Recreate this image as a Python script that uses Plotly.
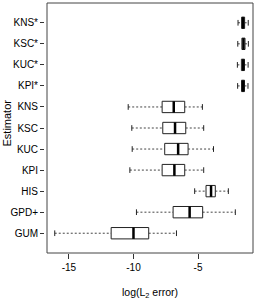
import plotly.graph_objects as go

# Categories, bottom to top
estimators = ["GUM", "GPD+", "HIS", "KPI", "KUC", "KSC", "KNS", "KPI*", "KUC*", "KSC*", "KNS*"]
lower_whisker = [-16.1, -9.77, -5.26, -10.28, -10.10, -10.13, -10.41, -1.93, -1.95, -1.92, -1.90]
q1 =            [-11.73, -6.93, -4.38, -7.78, -7.58, -7.73, -7.78, -1.63, -1.64, -1.60, -1.62]
median =        [-10.0, -5.65, -3.99, -6.83, -6.54, -6.78, -6.88, -1.50, -1.50, -1.48, -1.51]
q3 =            [-8.82, -4.64, -3.66, -6.03, -5.77, -5.95, -6.03, -1.40, -1.40, -1.36, -1.39]
upper_whisker = [-6.67, -2.11, -2.65, -4.56, -3.80, -4.56, -4.66, -1.13, -1.12, -1.10, -1.11]
x_ticks = [-15, -10, -5]

half_box = 0.27
half_cap = 0.135
line_col = "#222222"

box_x, box_y = [], []
med_x, med_y = [], []
wh_x, wh_y = [], []
cap_x, cap_y = [], []
for i, name in enumerate(estimators):
    p = i + 1
    box_x += [q1[i], q3[i], q3[i], q1[i], q1[i], None]
    box_y += [p - half_box, p - half_box, p + half_box, p + half_box, p - half_box, None]
    med_x += [median[i], median[i], None]
    med_y += [p - half_box, p + half_box, None]
    wh_x += [lower_whisker[i], q1[i], None, q3[i], upper_whisker[i], None]
    wh_y += [p, p, None, p, p, None]
    cap_x += [lower_whisker[i], lower_whisker[i], None, upper_whisker[i], upper_whisker[i], None]
    cap_y += [p - half_cap, p + half_cap, None, p - half_cap, p + half_cap, None]

fig = go.Figure()
fig.add_trace(go.Scatter(x=wh_x, y=wh_y, mode="lines",
                         line=dict(color="#444444", width=1, dash="2px,2px"), hoverinfo="skip"))
fig.add_trace(go.Scatter(x=cap_x, y=cap_y, mode="lines",
                         line=dict(color=line_col, width=1), hoverinfo="skip"))
fig.add_trace(go.Scatter(x=box_x, y=box_y, mode="lines", fill="toself", fillcolor="white",
                         line=dict(color=line_col, width=1), hoverinfo="skip"))
fig.add_trace(go.Scatter(x=med_x, y=med_y, mode="lines",
                         line=dict(color="black", width=2.5), hoverinfo="skip"))

family = "Liberation Sans, Arial, sans-serif"
font = dict(family=family, size=10, color="black")

fig.update_layout(
    width=258, height=301,
    margin=dict(l=44, r=5, t=3, b=48, autoexpand=False),
    plot_bgcolor="white", paper_bgcolor="white",
    showlegend=False,
    font=font,
    xaxis=dict(domain=[3 / 209, 1], range=[-16.7, -0.74], tickmode="array", tickvals=x_ticks,
               ticktext=[str(v) for v in x_ticks], ticks="outside", ticklen=5, tickcolor="#333",
               showgrid=False, zeroline=False, showline=False, tickfont=font, automargin=False),
    yaxis=dict(anchor="free", position=0, range=[0.06, 11.94], tickmode="array",
               tickvals=list(range(1, len(estimators) + 1)), ticktext=estimators,
               ticks="outside", ticklen=4, tickcolor="#333",
               showgrid=False, zeroline=False, showline=False, tickfont=font, automargin=False),
    shapes=[dict(type="rect", xref="x domain", yref="y domain", x0=0, x1=1, y0=0, y1=1,
                 line=dict(color="#444444", width=1))],
    annotations=[
        dict(text="log(L<sub>2</sub> error)", xref="x domain", yref="paper", x=0.5, y=0,
             yanchor="middle", yshift=-40, showarrow=False, font=dict(family=family, size=10.5, color="black")),
        dict(text="Estimator", xref="paper", yref="y domain", x=0, xshift=-37.5, y=0.52,
             xanchor="center", yanchor="middle", textangle=-90, showarrow=False,
             font=dict(family=family, size=11, color="black")),
    ],
)

fig.write_html("out.html", config={"displayModeBar": False},
               post_script="document.body.style.margin='0';document.body.style.overflow='hidden';")
